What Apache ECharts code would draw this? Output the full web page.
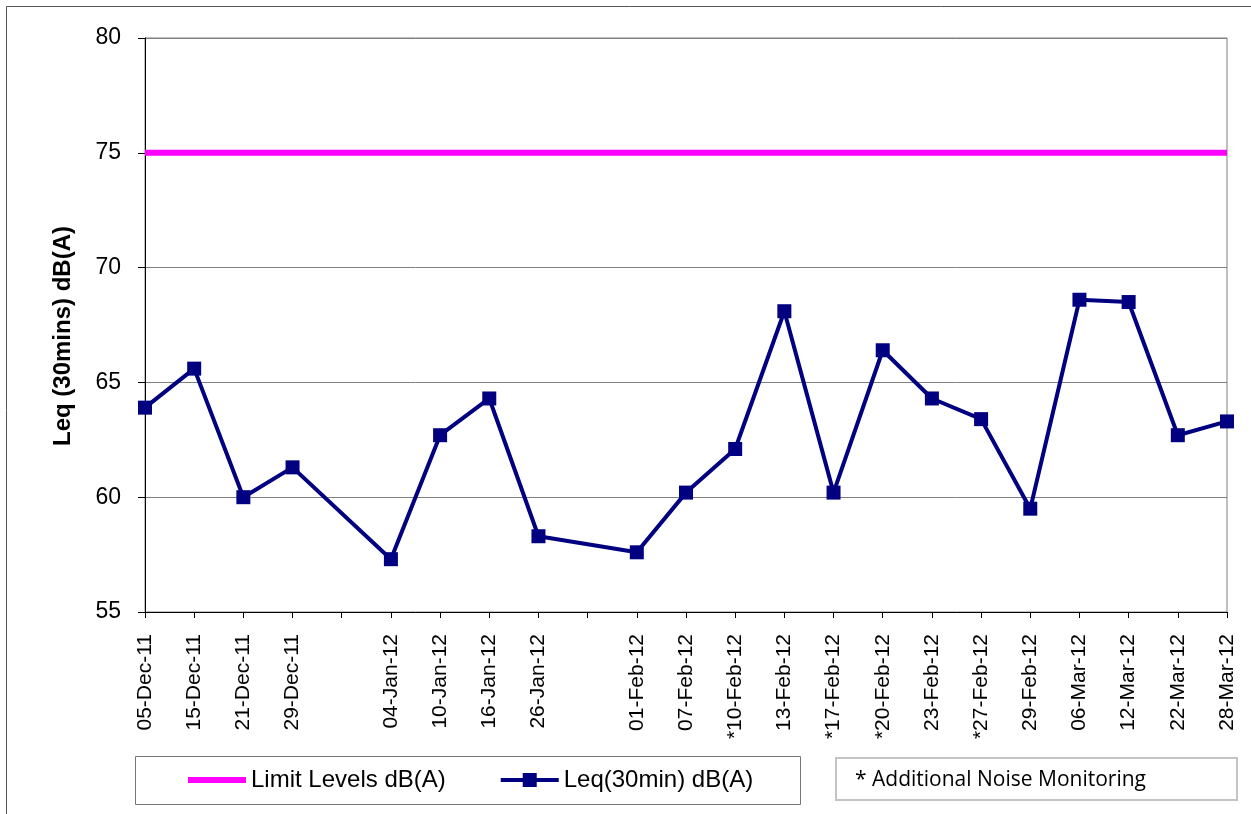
<!DOCTYPE html>
<html>
<head>
<meta charset="utf-8">
<script src="https://cdn.jsdelivr.net/npm/echarts@6/dist/echarts.min.js"></script>
<style>
html,body{margin:0;padding:0;background:#fff;}
#chart{width:1251px;height:814px;}
</style>
</head>
<body>
<div id="chart"></div>
<script>
const categories = ['05-Dec-11','15-Dec-11','21-Dec-11','29-Dec-11','','04-Jan-12','10-Jan-12','16-Jan-12','26-Jan-12','','01-Feb-12','07-Feb-12','*10-Feb-12','13-Feb-12','*17-Feb-12','*20-Feb-12','23-Feb-12','*27-Feb-12','29-Feb-12','06-Mar-12','12-Mar-12','22-Mar-12','28-Mar-12'];
const leqValues = [63.9,65.6,60.0,61.3,null,57.3,62.7,64.3,58.3,null,57.6,60.2,62.1,68.1,60.2,66.4,64.3,63.4,59.5,68.6,68.5,62.7,63.3];
const limitValues = [75,75,75,75,75,75,75,75,75,75,75,75,75,75,75,75,75,75,75,75,75,75,75];
const yTicks = [55,60,65,70,75,80];
const seriesNames = ['Limit Levels dB(A)','Leq(30min) dB(A)'];
const yAxisTitle = 'Leq (30mins) dB(A)';
const noteText = '* Additional Noise Monitoring';

const chart = echarts.init(document.getElementById('chart'));
const FONT = '"Liberation Sans", Arial, sans-serif';
chart.setOption({
  animation: false,
  backgroundColor: '#fff',
  grid: {left: 145, right: 24, top: 38, bottom: 202, show: true, borderColor: '#808080', borderWidth: 1, containLabel: false},
  legend: {
    left: 188, top: 768, padding: 0,
    itemWidth: 58, itemHeight: 14, itemGap: 55,
    textStyle: {fontFamily: FONT, fontSize: 24, color: '#000'},
    data: [
      {name: seriesNames[0], icon: 'path://M0,0 L58,0 L58,6 L0,6 Z', itemStyle: {color: '#FF00FF'}},
      {name: seriesNames[1], icon: 'path://M0,5 L58,5 L58,9 L0,9 Z M22,0 L36,0 L36,14 L22,14 Z', itemStyle: {color: '#000080'}}
    ]
  },
  xAxis: {
    type: 'category', data: categories, boundaryGap: false,
    axisLine: {lineStyle: {color: '#000', width: 1}},
    axisTick: {show: true, interval: 0, length: 6, lineStyle: {color: '#000'}},
    axisLabel: {interval: 0, rotate: 90, margin: 22, fontFamily: FONT, fontSize: 21, color: '#000'},
    splitLine: {show: false}
  },
  yAxis: {
    type: 'value', min: yTicks[0], max: yTicks[yTicks.length-1], interval: 5,
    name: yAxisTitle, nameLocation: 'middle', nameGap: 70, nameRotate: 90,
    nameTextStyle: {fontFamily: FONT, fontSize: 24, fontWeight: 'bold', color: '#000', padding: [0, 22, 0, 0]},
    axisLine: {show: true, lineStyle: {color: '#000', width: 1}},
    axisTick: {show: true, length: 7, lineStyle: {color: '#000'}},
    axisLabel: {margin: 24, fontFamily: FONT, fontSize: 23, color: '#000'},
    splitLine: {show: true, lineStyle: {color: '#808080', width: 1}}
  },
  series: [
    {
      name: seriesNames[0], type: 'line', data: limitValues,
      symbol: 'none', lineStyle: {color: '#FF00FF', width: 6}, itemStyle: {color: '#FF00FF'},
      z: 3
    },
    {
      name: seriesNames[1], type: 'line', data: leqValues, connectNulls: true,
      symbol: 'rect', symbolSize: 14,
      lineStyle: {color: '#000080', width: 4}, itemStyle: {color: '#000080'},
      z: 4
    }
  ],
  graphic: [
    {type: 'rect', shape: {x: 6.5, y: 6.5, width: 1300, height: 900}, style: {fill: 'none', stroke: '#555', lineWidth: 1}, silent: true},
    {type: 'rect', shape: {x: 135.5, y: 756.5, width: 665, height: 48}, style: {fill: 'none', stroke: '#777', lineWidth: 1}, silent: true},
    {type: 'rect', shape: {x: 836, y: 758, width: 401, height: 42}, style: {fill: 'none', stroke: '#c4c4c4', lineWidth: 2}, silent: true},
    {type: 'text', x: 855, y: 780, style: {text: noteText, font: '21px "Open Sans", sans-serif', fill: '#000', verticalAlign: 'middle'}, silent: true}
  ]
});
</script>
</body>
</html>
